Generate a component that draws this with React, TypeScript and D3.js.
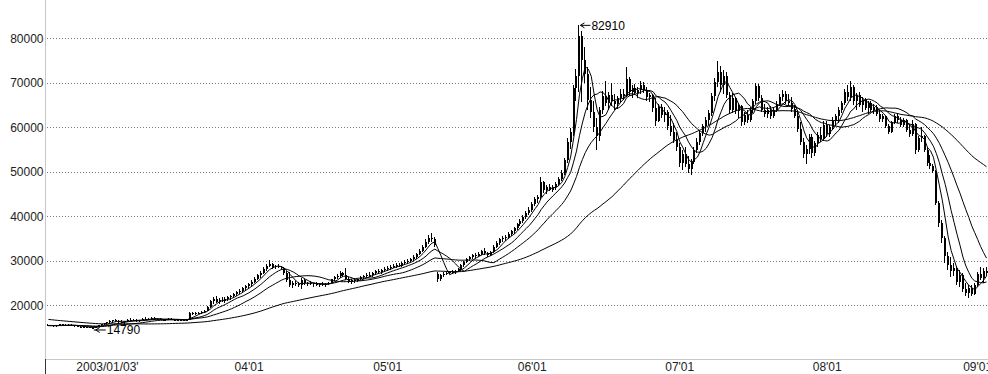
import React from 'react';
import * as d3 from 'd3';

// weekly bars, [open, high, low, close] in thousand yuan
type Bar = [number, number, number, number];

// closes before the visible window, only needed so the moving averages start where they do
const priorCloses = [
  19.2, 19.4, 19.5, 19.3, 19.1, 19.2, 19.0, 18.8, 18.9, 18.6, 18.4, 18.5, 18.2, 18.0, 18.1, 17.8, 17.6, 17.4,
  16.8, 16.6, 16.4, 16.2, 16.0, 16.1, 16.3, 16.5, 16.7, 16.6, 16.8, 17.0, 17.1, 17.3, 17.2, 17.0, 16.8, 16.6,
  16.4, 16.2, 16.1, 15.9,
  15.6, 15.5, 15.4, 15.5, 15.6, 15.7, 15.5, 15.4, 15.3, 15.4, 15.6, 15.5, 15.4, 15.6, 15.5, 15.4, 15.3, 15.5, 15.4,
];

const bars2002: Bar[] = [
  [15.5, 15.7, 15.3, 15.4], [15.4, 15.6, 15.3, 15.5], [15.5, 15.6, 15.2, 15.3], [15.3, 15.6, 15.2, 15.5],
  [15.5, 15.8, 15.4, 15.7], [15.7, 15.8, 15.4, 15.5], [15.5, 15.7, 15.3, 15.6], [15.6, 15.8, 15.4, 15.5],
  [15.5, 15.7, 15.3, 15.4], [15.4, 15.6, 15.2, 15.5], [15.5, 15.6, 15.1, 15.2], [15.2, 15.4, 15.0, 15.1],
  [15.1, 15.3, 14.9, 15.0], [15.0, 15.2, 14.9, 15.1], [15.1, 15.2, 14.9, 15.0], [15.0, 15.1, 14.79, 14.9],
  [14.9, 15.3, 14.85, 15.2], [15.2, 15.6, 15.1, 15.5], [15.5, 15.9, 15.4, 15.8], [15.8, 16.1, 15.6, 16.0],
];

const bars2003: Bar[] = [
  [16.0, 16.3, 15.8, 16.2], [16.2, 16.6, 16.0, 16.4], [16.4, 16.8, 16.2, 16.6], [16.6, 16.9, 16.3, 16.5],
  [16.5, 16.7, 16.1, 16.3], [16.3, 16.6, 16.0, 16.2], [16.2, 16.5, 15.9, 16.4], [16.4, 16.9, 16.3, 16.7],
  [16.7, 17.1, 16.5, 16.8], [16.8, 17.0, 16.4, 16.6], [16.6, 16.9, 16.3, 16.5], [16.5, 16.8, 16.2, 16.7],
  [16.7, 17.2, 16.6, 17.0], [17.0, 17.3, 16.7, 16.9], [16.9, 17.2, 16.6, 17.0], [17.0, 17.4, 16.8, 17.1],
  [17.1, 17.3, 16.8, 16.9], [16.9, 17.2, 16.6, 17.0], [17.0, 17.2, 16.7, 16.8], [16.8, 17.0, 16.4, 16.6],
  [16.6, 17.0, 16.5, 16.9], [16.9, 17.2, 16.7, 17.0], [17.0, 17.1, 16.6, 16.7], [16.7, 16.9, 16.4, 16.6],
  [16.6, 16.9, 16.4, 16.8], [16.8, 17.0, 16.5, 16.7], [16.7, 16.9, 16.4, 16.6], [16.6, 16.9, 16.5, 16.8],
  [16.8, 18.6, 16.7, 18.3], [18.3, 18.6, 17.9, 18.1], [18.1, 18.5, 17.9, 18.3], [18.3, 18.6, 18.0, 18.2],
  [18.2, 18.7, 18.0, 18.5], [18.5, 19.0, 18.3, 18.8], [18.8, 19.9, 18.7, 19.7], [19.7, 21.2, 19.5, 20.9],
  [20.9, 21.8, 20.3, 21.4], [21.4, 22.0, 20.6, 20.8], [20.8, 21.6, 20.2, 21.3], [21.3, 21.9, 20.7, 21.0],
  [21.0, 21.8, 20.6, 21.5], [21.5, 22.2, 21.0, 21.8], [21.8, 22.4, 21.2, 22.1], [22.1, 22.8, 21.7, 22.6],
  [22.6, 23.3, 22.2, 23.0], [23.0, 23.6, 22.5, 23.3], [23.3, 24.2, 23.0, 23.9], [23.9, 24.6, 23.4, 24.3],
];

const bars2004: Bar[] = [
  [24.3, 25.0, 23.8, 24.7], [24.7, 25.6, 24.3, 25.3], [25.3, 26.3, 25.0, 26.0], [26.0, 27.0, 25.6, 26.7],
  [26.7, 27.6, 26.2, 27.2], [27.2, 28.6, 27.0, 28.2], [28.2, 29.3, 27.8, 28.9], [28.9, 30.2, 28.5, 29.2],
  [29.2, 29.6, 28.2, 28.6], [28.6, 29.1, 28.1, 28.8], [28.8, 29.2, 28.3, 28.5], [28.5, 28.9, 27.9, 28.4],
  [28.4, 28.6, 26.8, 27.2], [27.2, 27.6, 25.3, 25.6], [25.6, 27.5, 24.1, 24.6], [24.6, 25.4, 24.0, 25.0],
  [25.0, 25.5, 24.3, 24.8], [24.8, 25.2, 24.2, 24.5], [24.5, 26.1, 23.7, 25.6], [25.6, 25.9, 24.6, 24.9],
  [24.9, 25.3, 24.4, 25.1], [25.1, 25.4, 24.5, 24.7], [24.7, 25.1, 24.2, 24.9], [24.9, 25.3, 24.4, 24.6],
  [24.6, 25.0, 24.1, 24.8], [24.8, 25.2, 24.3, 24.5], [24.5, 24.9, 24.1, 24.7], [24.7, 25.3, 24.5, 25.1],
  [25.1, 26.0, 24.9, 25.8], [25.8, 26.6, 25.5, 26.3], [26.3, 27.0, 25.9, 26.6], [26.6, 27.6, 26.2, 27.2],
  [27.2, 27.5, 26.4, 26.7], [26.7, 28.4, 25.7, 26.0], [26.0, 26.3, 24.9, 25.3], [25.3, 25.9, 24.8, 25.6],
  [25.6, 26.1, 25.1, 25.4], [25.4, 26.0, 25.2, 25.8], [25.8, 26.6, 25.6, 26.3], [26.3, 26.9, 25.9, 26.5],
  [26.5, 27.2, 26.2, 26.9], [26.9, 27.4, 26.3, 26.7], [26.7, 27.5, 26.4, 27.2], [27.2, 27.9, 26.9, 27.6],
  [27.6, 28.1, 27.0, 27.4], [27.4, 28.2, 27.1, 27.9], [27.9, 28.5, 27.5, 28.1],
];

const bars2005: Bar[] = [
  [28.1, 28.8, 27.7, 28.4], [28.4, 29.0, 28.0, 28.7], [28.7, 29.3, 28.3, 28.9], [28.9, 29.5, 28.4, 29.1],
  [29.1, 29.6, 28.6, 28.9], [28.9, 29.7, 28.7, 29.4], [29.4, 30.1, 29.0, 29.8], [29.8, 30.4, 29.3, 30.0],
  [30.0, 30.7, 29.7, 30.4], [30.4, 31.2, 30.0, 30.9], [30.9, 31.8, 30.5, 31.5], [31.5, 32.6, 31.2, 32.3],
  [32.3, 33.6, 32.0, 33.2], [33.2, 34.8, 32.9, 34.3], [34.3, 35.8, 33.8, 35.2], [35.2, 36.2, 34.3, 34.9],
  [34.9, 35.3, 33.0, 33.6], [27.0, 27.4, 25.3, 25.8], [25.8, 27.0, 25.5, 26.7], [26.7, 27.4, 26.3, 27.1],
  [27.1, 27.6, 26.8, 27.3], [27.3, 27.8, 27.0, 27.5], [27.5, 27.9, 27.1, 27.4], [27.4, 27.9, 27.1, 27.7],
  [27.7, 28.3, 27.4, 28.1], [28.1, 29.2, 27.9, 29.0], [29.0, 30.0, 28.7, 29.8], [29.8, 30.6, 29.4, 30.3],
  [30.3, 31.0, 29.9, 30.8], [30.8, 31.6, 30.4, 31.3], [31.3, 31.8, 30.7, 31.0], [31.0, 31.9, 30.8, 31.6],
  [31.6, 32.4, 31.2, 32.1], [32.1, 32.8, 31.4, 31.7], [31.7, 32.0, 30.9, 31.3], [31.3, 32.3, 31.0, 32.0],
  [32.0, 33.5, 31.8, 33.2], [33.2, 34.5, 32.9, 34.1], [34.1, 35.2, 33.6, 34.8], [34.8, 35.6, 34.2, 35.1],
  [35.1, 35.9, 34.5, 35.4], [35.4, 36.4, 35.0, 36.0], [36.0, 37.0, 35.6, 36.6], [36.6, 37.6, 36.1, 37.3],
  [37.3, 38.6, 36.9, 38.2], [38.2, 39.5, 37.8, 39.0], [39.0, 40.3, 38.5, 39.8], [39.8, 41.2, 39.3, 40.7],
  [40.7, 42.0, 40.2, 41.5],
];

const bars2006: Bar[] = [
  [41.5, 43.2, 41.0, 42.8], [42.8, 44.3, 42.3, 43.9], [43.9, 44.8, 43.0, 44.3], [44.3, 48.8, 44.0, 47.6],
  [47.6, 47.9, 45.2, 45.8], [45.8, 47.0, 45.1, 46.6], [46.6, 47.3, 45.6, 46.0], [46.0, 47.0, 45.4, 46.5],
  [46.5, 47.6, 46.0, 47.2], [47.2, 48.8, 46.9, 48.4], [48.4, 50.3, 48.0, 49.8], [49.8, 53.0, 49.3, 52.6],
  [52.6, 57.5, 52.0, 56.8], [56.8, 59.8, 55.2, 58.9], [58.9, 69.5, 58.0, 68.8], [68.8, 73.0, 66.0, 71.5],
  [71.5, 82.91, 68.0, 80.5], [80.5, 81.7, 65.6, 75.2], [75.2, 78.0, 70.0, 72.0], [72.0, 73.5, 64.0, 66.2],
  [66.2, 69.0, 62.0, 63.5], [63.5, 66.0, 59.0, 60.0], [60.0, 62.0, 55.0, 58.0], [58.0, 64.5, 57.0, 63.8],
  [63.8, 68.2, 63.0, 67.0], [67.0, 70.5, 64.8, 65.4], [65.4, 68.0, 63.8, 67.2], [67.2, 70.0, 64.8, 66.0],
  [66.0, 67.5, 64.0, 65.3], [65.3, 67.0, 64.2, 66.6], [66.6, 68.5, 65.5, 67.5], [67.5, 68.6, 66.2, 67.0],
  [67.0, 73.5, 66.7, 70.8], [70.8, 71.2, 67.0, 68.0], [68.0, 69.5, 66.5, 68.8], [68.8, 69.8, 67.2, 67.6],
  [67.6, 69.0, 66.6, 68.4], [68.4, 70.5, 67.5, 69.6], [69.6, 70.2, 67.8, 68.3], [68.3, 69.0, 66.0, 66.8],
  [66.8, 67.6, 65.7, 67.2], [67.2, 67.5, 63.5, 64.3], [64.3, 66.5, 60.4, 61.5], [61.5, 65.3, 61.3, 64.5],
  [64.5, 65.3, 62.0, 62.8], [62.8, 64.5, 61.3, 63.5], [63.5, 63.8, 59.5, 60.2], [60.2, 62.7, 58.0, 59.0],
  [59.0, 61.0, 56.5, 57.2], [57.2, 59.0, 54.7, 55.5],
];

const bars2007: Bar[] = [
  [55.5, 56.5, 51.0, 52.0], [52.0, 55.0, 50.5, 54.0], [54.0, 55.5, 51.0, 51.8], [51.8, 53.5, 49.8, 50.6],
  [50.6, 52.8, 49.3, 52.3], [52.3, 55.6, 51.8, 55.0], [55.0, 57.5, 54.2, 56.8], [56.8, 59.4, 56.0, 58.7],
  [58.7, 60.8, 58.0, 60.2], [60.2, 62.4, 59.0, 61.6], [61.6, 63.8, 60.5, 63.2], [63.2, 67.8, 62.6, 67.0],
  [67.0, 71.0, 66.0, 70.2], [70.2, 75.0, 69.0, 72.5], [72.5, 73.8, 68.0, 69.4], [69.4, 72.8, 67.5, 71.6],
  [71.6, 72.4, 66.5, 67.2], [67.2, 68.0, 63.0, 64.0], [64.0, 67.6, 63.2, 66.5], [66.5, 66.8, 63.0, 63.6],
  [63.6, 65.5, 62.0, 64.7], [64.7, 64.9, 60.4, 61.2], [61.2, 63.5, 60.5, 62.8], [62.8, 64.0, 61.0, 61.6],
  [61.6, 64.5, 61.2, 64.0], [64.0, 66.3, 63.2, 65.8], [65.8, 70.0, 65.2, 69.2], [69.2, 69.8, 66.0, 66.6],
  [66.6, 67.2, 63.4, 64.0], [64.0, 65.2, 62.4, 63.0], [63.0, 64.6, 62.0, 64.0], [64.0, 64.7, 61.8, 62.5],
  [62.5, 64.5, 62.0, 64.0], [64.0, 65.8, 63.5, 65.2], [65.2, 67.4, 64.7, 66.8], [66.8, 68.4, 65.8, 67.5],
  [67.5, 68.2, 65.2, 66.0], [66.0, 67.5, 64.8, 65.4], [65.4, 66.8, 63.5, 64.2], [64.2, 65.0, 62.0, 62.6],
  [62.6, 63.8, 59.0, 59.6], [59.6, 61.3, 56.0, 56.8], [56.8, 57.5, 53.0, 54.0], [54.0, 56.0, 51.8, 55.2],
  [55.2, 58.6, 54.0, 57.8], [57.8, 58.4, 53.0, 54.2], [54.2, 57.0, 53.5, 56.4], [56.4, 59.0, 55.5, 58.3],
  [58.3, 60.0, 56.6, 57.4], [57.4, 61.5, 57.0, 60.6],
];

const bars2008: Bar[] = [
  [60.6, 61.5, 57.8, 58.5], [58.5, 60.5, 57.8, 60.0], [60.0, 62.3, 59.4, 61.5], [61.5, 63.0, 60.5, 62.5],
  [62.5, 64.5, 61.0, 64.0], [64.0, 66.0, 63.2, 65.5], [65.5, 68.5, 65.0, 68.0], [68.0, 69.6, 66.0, 66.8],
  [66.8, 70.4, 66.0, 69.0], [69.0, 69.4, 65.0, 65.8], [65.8, 67.8, 63.9, 67.2], [67.2, 68.0, 64.5, 65.0],
  [65.0, 66.8, 63.5, 66.2], [66.2, 66.6, 63.8, 64.4], [64.4, 66.0, 63.0, 65.5], [65.5, 65.8, 63.4, 63.9],
  [63.9, 65.2, 63.0, 64.6], [64.6, 64.9, 62.5, 63.0], [63.0, 63.8, 61.3, 61.8], [61.8, 63.0, 61.2, 62.5],
  [62.5, 62.6, 59.8, 60.2], [60.2, 60.8, 58.6, 59.0], [59.0, 61.5, 58.8, 61.2], [61.2, 63.0, 60.8, 62.6],
  [62.6, 63.0, 61.0, 61.6], [61.6, 62.3, 60.0, 60.6], [60.6, 62.0, 60.0, 61.6], [61.6, 61.8, 59.0, 59.5],
  [59.5, 60.8, 57.8, 58.4], [58.4, 61.6, 58.0, 60.8], [60.8, 61.0, 54.0, 54.8], [54.8, 58.0, 54.5, 57.5],
  [57.5, 60.0, 56.8, 58.0], [58.0, 58.2, 54.5, 55.0], [55.0, 55.6, 51.2, 52.0], [52.0, 53.8, 50.6, 51.2],
  [51.2, 51.8, 49.7, 50.2], [50.2, 50.4, 42.5, 43.0], [43.0, 43.5, 37.6, 38.6], [38.6, 39.2, 34.0, 35.2],
  [35.2, 35.6, 29.4, 31.0], [31.0, 32.0, 28.0, 29.0], [29.0, 30.8, 26.3, 27.8], [27.8, 29.6, 26.5, 28.4],
  [28.4, 28.8, 24.6, 25.2], [25.2, 28.0, 24.1, 26.8], [26.8, 27.2, 23.0, 23.6], [23.6, 25.0, 22.2, 22.8],
  [22.8, 24.6, 21.6, 24.0], [24.0, 24.5, 22.0, 22.6], [22.6, 25.0, 22.4, 24.5],
];

const bars2009: Bar[] = [
  [24.5, 27.5, 24.2, 27.0], [27.0, 28.6, 25.6, 26.2], [26.2, 28.4, 25.0, 27.8], [27.8, 28.6, 26.5, 27.3],
];

const labelledYears = [bars2003, bars2004, bars2005, bars2006, bars2007, bars2008, bars2009];
const yearLabels = ["2003/01/03'", "04'01", "05'01", "06'01", "07'01", "08'01", "09'01"];
const yTicks = [20000, 30000, 40000, 50000, 60000, 70000, 80000];
const maPeriods = [5, 10, 20, 60];

const W = 988;
const H = 374;
const FONT = '"Liberation Sans", Arial, sans-serif';

export default function App() {
  const raw = [bars2002, ...labelledYears].flat();
  const bars = raw.map(([o, h, l, c]) => ({ o: o * 1000, h: h * 1000, l: l * 1000, c: c * 1000 }));

  const x = d3.scaleBand<number>().domain(d3.range(bars.length)).range([47, 988]);
  const cx = (i: number) => (x(i) as number) + x.bandwidth() / 2;
  const y = d3.scaleLinear().domain([20000, 80000]).range([305.3, 38.3]);

  // moving averages of close
  const closes = [...priorCloses, ...raw.map(b => b[3])].map(v => v * 1000);
  const off = priorCloses.length;
  const mas = maPeriods.map(n =>
    bars.map((_, i) => d3.mean(closes.slice(off + i - n + 1, off + i + 1)) as number)
  );
  const line = d3.line<number>().x((_, i) => cx(i)).y(v => y(v));

  // where the year labels sit
  let start = bars2002.length;
  const labelIdx = labelledYears.map(arr => {
    const s = start;
    start += arr.length;
    return s;
  });

  const hiIdx = d3.maxIndex(bars, b => b.h);
  const loIdx = d3.minIndex(bars, b => b.l);
  const hiX = cx(hiIdx) + 1;
  const hiY = y(bars[hiIdx].h);
  const loX = cx(loIdx) + 1;
  const loY = y(bars[loIdx].l) + 1.5;

  return (
    <svg
      width={W}
      height={H}
      style={{ position: 'absolute', left: 0, top: 0, background: '#fff' }}
      fontFamily={FONT}
    >
      {/* grid */}
      {yTicks.map(t => (
        <g key={t}>
          <line
            x1={47}
            x2={W}
            y1={Math.round(y(t)) + 0.5}
            y2={Math.round(y(t)) + 0.5}
            stroke="#777"
            strokeDasharray="1,2"
          />
          <text x={43.5} y={y(t)} dy="0.35em" textAnchor="end" fontSize={12} fill="#222">
            {t}
          </text>
        </g>
      ))}

      {/* axes */}
      <line x1={45.5} x2={45.5} y1={0} y2={359} stroke="#c8c8c8" />
      <line x1={45} x2={W} y1={359.5} y2={359.5} stroke="#c8c8c8" />
      <line x1={45.5} x2={45.5} y1={359} y2={H} stroke="#333" />
      {labelIdx.map((idx, k) => (
        <text key={k} x={cx(idx)} y={371} textAnchor="middle" fontSize={12} fill="#222">
          {yearLabels[k]}
        </text>
      ))}

      {/* candles */}
      <g shapeRendering="crispEdges">
        {bars.map((b, i) => {
          const xl = Math.round(cx(i) - 1);
          const top = y(Math.max(b.o, b.c));
          const bh = Math.max(1, Math.abs(y(b.o) - y(b.c)));
          return (
            <g key={i}>
              <line x1={xl + 0.5} x2={xl + 0.5} y1={y(b.h)} y2={y(b.l)} stroke="#000" />
              <rect x={xl} y={top} width={2} height={bh} fill="#000" />
            </g>
          );
        })}
      </g>

      {/* moving averages */}
      {mas.map((vals, k) => (
        <path key={maPeriods[k]} d={line(vals) || ''} fill="none" stroke="#000" strokeWidth={1} />
      ))}

      {/* high / low marks */}
      <g stroke="#000" fill="none">
        <path d={`M${hiX},${hiY}H${hiX + 10}M${hiX},${hiY}l4,-2.5M${hiX},${hiY}l4,2.5`} />
        <path d={`M${loX},${loY}H${loX + 12}M${loX + 2},${loY}l4,-2.5M${loX + 2},${loY}l4,2.5`} />
      </g>
      <text x={hiX + 11} y={hiY} dy="0.35em" fontSize={12} fill="#000">
        {Math.round(bars[hiIdx].h)}
      </text>
      <text x={loX + 13} y={loY} dy="0.35em" fontSize={12} fill="#000">
        {Math.round(bars[loIdx].l)}
      </text>
    </svg>
  );
}
